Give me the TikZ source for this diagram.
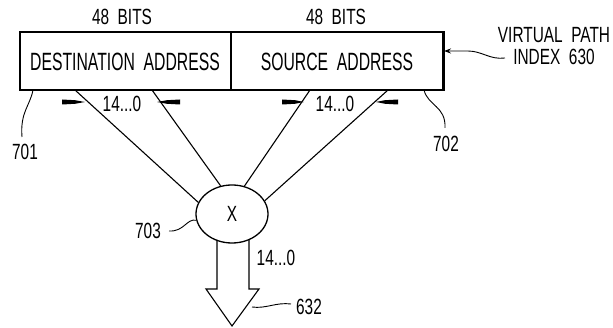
\documentclass[tikz,border=0pt]{standalone}
\usepackage{fontspec}
\newfontfamily\pat[FakeStretch=0.63]{Liberation Sans}
\newfontfamily\patw[FakeStretch=0.7]{Liberation Sans}
\usetikzlibrary{arrows.meta,shapes.geometric}
\begin{document}
\begin{tikzpicture}[x=1pt,y=-1pt,
  lab/.style={inner sep=0pt,font=\patw\fontsize{22}{24}\selectfont},
  boxlab/.style={inner sep=0pt,font=\pat\fontsize{25}{27}\selectfont},
  field/.style={draw,line width=1.3pt,minimum height=58pt,inner sep=0pt},
  wire/.style={line width=1.1pt},
  lead/.style={line width=0.9pt},
  marker/.style={fill=black}]
\useasboundingbox (0,0) rectangle (613,328);
% fields
\node[field,minimum width=211pt] (dest) at (125.5,61) {};
\node[field,minimum width=212pt] (src) at (337,61) {};
\draw[line width=2.6pt] (src.north east) -- (src.south east);
\node[boxlab] (destt) at (125,62) {DESTINATION\ \ ADDRESS};
\node[boxlab] (srct) at (337,62) {SOURCE\ \ ADDRESS};
\node[lab] (b1) at (122,17) {48\ \ BITS};
\node[lab] (b2) at (336,17) {48\ \ BITS};
% virtual path index
\node[lab,align=center] (vpi) at (554,46) {VIRTUAL\ \ PATH\\[-2pt]INDEX\ \ 630};
\coordinate (vpiend) at (505,58);
\coordinate (srcR) at (444,51);
\draw[lead,-{Stealth[length=7pt,width=5pt]}] (vpiend) .. controls (490,60) and (482,51) .. (468,51) -- (srcR);
% ellipse
\node[draw,ellipse,line width=1.3pt,minimum width=72pt,minimum height=58pt,inner sep=0pt] (mx) at (232,214) {};
\node[lab] (mxt) at (232,214) {X};
% wires
\coordinate (a1) at (75,90);
\coordinate (a2) at (152,90);
\coordinate (a3) at (310,90);
\coordinate (a4) at (388,90);
\draw[wire] (a1) -- (mx.161);
\draw[wire] (a2) -- (mx.112);
\draw[wire] (a3) -- (mx.66);
\draw[wire] (a4) -- (mx.22);
% markers
\fill[marker] (62,99.5) -- (75,100.2) -- (85,102) -- (75,103.8) -- (62,104.5) -- cycle;
\fill[marker] (180,99.5) -- (167,100.2) -- (157,102) -- (167,103.8) -- (180,104.5) -- cycle;
\fill[marker] (282,99.5) -- (295,100.2) -- (304,102) -- (295,103.8) -- (282,104.5) -- cycle;
\fill[marker] (398,99.5) -- (385,100.2) -- (376,102) -- (385,103.8) -- (398,104.5) -- cycle;
\node[lab] (r1) at (122,104) {14...0};
\node[lab] (r2) at (335,104) {14...0};
% reference numerals
\node[lab] (n701) at (25,152) {701};
\coordinate (l701) at (33,90);
\draw[lead] (l701) .. controls (30,106) and (20,112) .. (22,137);
\node[lab] (n702) at (446,144) {702};
\coordinate (l702) at (424,90);
\draw[lead] (l702) .. controls (428,106) and (446,106) .. (445,128);
\node[lab] (n703) at (148,231) {703};
\draw[lead] (169,231) .. controls (184,232) and (187,218) .. (mx.190);
% output arrow
\draw[line width=1.1pt,line join=miter] (217,240) -- (217,289) -- (206,289) -- (232,326) -- (259,289) -- (249,289) -- (249,240);
\node[lab] (o1) at (276,258) {14...0};
\node[lab] (n632) at (309,307) {632};
\coordinate (l632) at (291,304);
\draw[lead] (l632) .. controls (276,302) and (266,309) .. (252,307);
\end{tikzpicture}
\end{document}
